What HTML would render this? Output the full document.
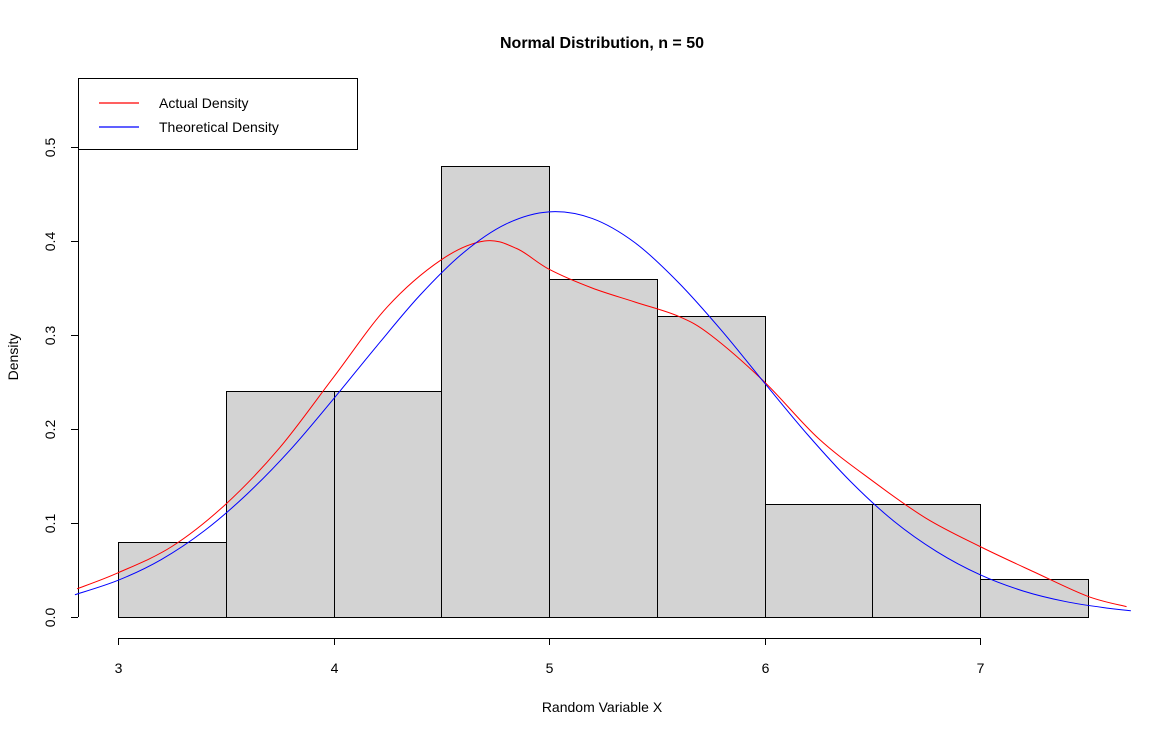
<!DOCTYPE html>
<html><head><meta charset="utf-8"><style>
html,body{margin:0;padding:0;background:#fff;}
svg{display:block;font-family:"Liberation Sans",Arial,sans-serif;}
</style></head><body>
<svg id="chart" width="1167" height="736" viewBox="0 0 1167 736">
<rect width="1167" height="736" fill="#fff"/>
<text x="602" y="48" font-size="16" font-weight="bold" text-anchor="middle">Normal Distribution, n = 50</text>
<g id="bars"></g>
<g id="axes"></g>
<path id="actual" fill="none" stroke="#ff0000" stroke-width="1"/>
<path id="theory" fill="none" stroke="#0000ff" stroke-width="1"/>
<text x="602" y="712" font-size="14" text-anchor="middle">Random Variable X</text>
<text x="18" y="357" font-size="14" text-anchor="middle" transform="rotate(-90 18 357)">Density</text>
<g>
<rect x="78.5" y="78.5" width="279" height="71" fill="#fff" stroke="#000"/>
<line x1="99" y1="103" x2="139" y2="103" style="stroke:#ff0000;stroke-width:1.3"/>
<text x="159" y="108" font-size="14">Actual Density</text>
<line x1="99" y1="127" x2="139" y2="127" style="stroke:#0000ff;stroke-width:1.3"/>
<text x="159" y="132" font-size="14">Theoretical Density</text>
</g>
</svg>
<script>
const binStarts=[3,3.5,4,4.5,5,5.5,6,6.5,7];
const binDensities=[0.08,0.24,0.24,0.48,0.36,0.32,0.12,0.12,0.04];
const binWidth=0.5;
const xTicks=[3,4,5,6,7];
const yTicks=[0,0.1,0.2,0.3,0.4,0.5];
const yTickLabels=["0.0","0.1","0.2","0.3","0.4","0.5"];
const actualX=[2.81,3.0,3.25,3.5,3.75,4.0,4.25,4.5,4.7,4.85,5.0,5.2,5.4,5.6,5.75,6.0,6.25,6.5,6.75,7.0,7.25,7.5,7.68];
const actualY=[0.03,0.047,0.075,0.12,0.18,0.255,0.33,0.38,0.40,0.392,0.37,0.35,0.335,0.32,0.30,0.25,0.19,0.145,0.105,0.075,0.048,0.022,0.011];
const theoX=[2.8,3.0,3.2,3.4,3.6,3.8,4.0,4.2,4.4,4.6,4.8,5.0,5.2,5.4,5.6,5.8,6.0,6.2,6.4,6.6,6.8,7.0,7.2,7.4,7.6,7.7];
const theoY=[0.0237,0.039,0.061,0.0916,0.131,0.178,0.232,0.288,0.342,0.387,0.418,0.431,0.424,0.398,0.356,0.305,0.249,0.194,0.144,0.102,0.0695,0.045,0.0277,0.0163,0.0092,0.0067];

const X=v=>118+(v-3)*215.5;
const Y=v=>617-v*940;
const NS="http://www.w3.org/2000/svg";
function mk(tag,attrs,parent){const e=document.createElementNS(NS,tag);for(const k in attrs)e.setAttribute(k,attrs[k]);parent.appendChild(e);return e;}
const bars=document.getElementById('bars');
binStarts.forEach((s,i)=>{
  const x0=X(s),x1=X(s+binWidth),y=Y(binDensities[i]);
  const r=mk('rect',{x:Math.round(x0)+0.5,y:Math.round(y)+0.5,width:Math.round(x1)-Math.round(x0),height:Math.round(Y(0))-Math.round(y),fill:'#d3d3d3',stroke:'#000'},bars);
  
  
});
const axes=document.getElementById('axes');
const xl=mk('line',{x1:X(xTicks[0]),x2:X(xTicks[xTicks.length-1]),y1:638.5,y2:638.5,stroke:'#000'},axes);


xTicks.forEach(t=>{
  const x=Math.round(X(t))+0.5;
  const tk=mk('line',{x1:x,x2:x,y1:638,y2:645,stroke:'#000'},axes);
  
  
  const lb=mk('text',{x:x,y:673,'font-size':14,'text-anchor':'middle'},axes);
  lb.textContent=t;
  
  
});
const yl=mk('line',{x1:78.5,x2:78.5,y1:Y(yTicks[0]),y2:Y(yTicks[yTicks.length-1]),stroke:'#000'},axes);


yTicks.forEach((t,i)=>{
  const y=Math.round(Y(t))+0.5;
  const tk=mk('line',{x1:71,x2:78,y1:y,y2:y,stroke:'#000'},axes);
  
  
  const lb=mk('text',{x:55,y:y,'font-size':14,'text-anchor':'middle',transform:'rotate(-90 55 '+y+')'},axes);
  lb.textContent=yTickLabels[i];
  
  
});
function smooth(xs,ys){
  const p=xs.map((x,i)=>[X(x),Y(ys[i])]);
  let d='M'+p[0][0]+','+p[0][1];
  for(let i=0;i<p.length-1;i++){
    const p0=p[Math.max(0,i-1)],p1=p[i],p2=p[i+1],p3=p[Math.min(p.length-1,i+2)];
    const c1=[p1[0]+(p2[0]-p0[0])/6,p1[1]+(p2[1]-p0[1])/6];
    const c2=[p2[0]-(p3[0]-p1[0])/6,p2[1]-(p3[1]-p1[1])/6];
    d+=' C'+c1+' '+c2+' '+p2;
  }
  return d;
}
document.getElementById('actual').setAttribute('d',smooth(actualX,actualY));
document.getElementById('theory').setAttribute('d',smooth(theoX,theoY));
</script>
</body></html>
